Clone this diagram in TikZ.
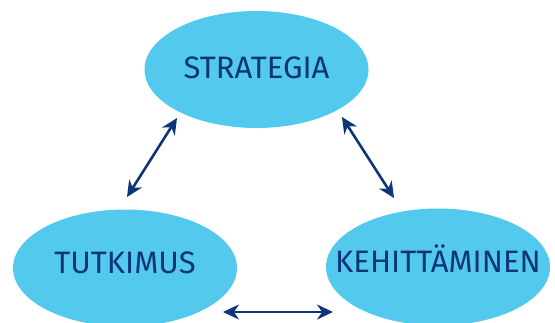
\documentclass[tikz,border=0pt]{standalone}
\usepackage{fontspec}
\setmainfont{Fira Sans}
\usetikzlibrary{shapes.geometric,arrows.meta}
\definecolor{bubble}{HTML}{54C9EE}
\definecolor{navy}{HTML}{0C3679}
\tikzset{
  bubble/.style={ellipse, fill=bubble, draw=none, minimum width=224pt, minimum height=117pt, inner sep=0pt},
  label/.style={text=navy, font=\fontsize{31}{32}\selectfont, anchor=base},
  link/.style={draw=navy, line width=2.6pt, {Stealth[length=16pt,width=15pt]}-{Stealth[length=16pt,width=15pt]}}
}
\begin{document}
\begin{tikzpicture}[x=1pt,y=-1pt]
\useasboundingbox (0,0) rectangle (555,322);
\node[bubble] (s) at (256.5,69.5) {};
\node[bubble] (t) at (125,268) {};
\node[bubble] (k) at (438,267) {};
\node[label] (sl) at (256.5,78.5) {STRATEGIA};
\node[label] (tl) at (125,273.5) {TUTKIMUS};
\node[label] (kl) at (438,272) {KEHITT\"AMINEN};
\coordinate (a1) at (177,118);
\coordinate (a2) at (127,197);
\coordinate (b1) at (342,117);
\coordinate (b2) at (394,198);
\coordinate (c1) at (223,312);
\coordinate (c2) at (333,312);
\draw[link] (a1) -- (a2);
\draw[link] (b1) -- (b2);
\draw[link] (c1) -- (c2);
\end{tikzpicture}
\end{document}
